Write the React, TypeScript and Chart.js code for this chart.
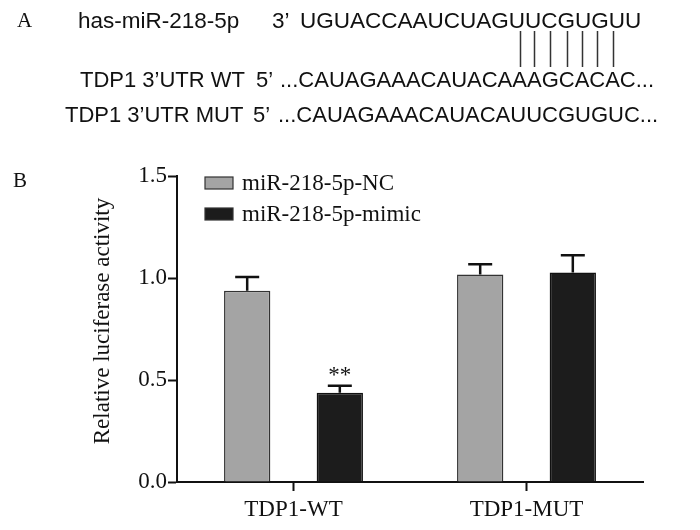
import { useEffect, useRef } from "react";
import { Chart, registerables } from "chart.js";

Chart.register(...registerables);

// ---- Panel B data ----
const categories = ["TDP1-WT", "TDP1-MUT"];
const seriesNames = ["miR-218-5p-NC", "miR-218-5p-mimic"];
const ncValues = [0.938, 1.017];
const ncErrors = [0.067, 0.051];
const mimicValues = [0.438, 1.027];
const mimicErrors = [0.034, 0.085];
const mimicMarks = ["**", ""];
const ncMarks = ["", ""];
const yTicks = [0, 0.5, 1.0, 1.5];
const yTitle = "Relative luciferase activity";

// ---- Panel A text ----
const mirName = "has-miR-218-5p";
const mirEnd = "3’";
const mirSeq = "UGUACCAAUCUAGUUCGUGUU";
const wtLabel = "TDP1 3’UTR WT";
const mutLabel = "TDP1 3’UTR MUT";
const utrEnd = "5’";
const wtSeq = "...CAUAGAAACAUACAAAGCACAC...";
const mutSeq = "...CAUAGAAACAUACAUUCGUGUC...";
// indices (in wtSeq, including the leading "...") of the paired bases
const pairedIdx = [17, 18, 19, 20, 21, 22, 23];

const NC_FILL = "#a4a4a4";
const MIMIC_FILL = "#1c1c1c";
const SERIF = "'Liberation Serif', 'Times New Roman', serif";
const SANS = "'Liberation Sans', Arial, sans-serif";

const customPlugin = {
  id: "customDraw",
  afterDatasetsDraw(chart: any) {
    const ctx = chart.ctx;
    const ys = chart.scales.y;
    const vals = [ncValues, mimicValues];
    const errs = [ncErrors, mimicErrors];
    const marks = [ncMarks, mimicMarks];
    chart.data.datasets.forEach((_ds: any, di: number) => {
      const meta = chart.getDatasetMeta(di);
      meta.data.forEach((bar: any, i: number) => {
        const x = bar.x;
        const top = ys.getPixelForValue(vals[di][i]);
        const et = ys.getPixelForValue(vals[di][i] + errs[di][i]);
        ctx.save();
        ctx.strokeStyle = "#111";
        ctx.lineWidth = 2.5;
        ctx.beginPath();
        ctx.moveTo(x, top);
        ctx.lineTo(x, et);
        ctx.moveTo(x - 12, et);
        ctx.lineTo(x + 12, et);
        ctx.stroke();
        if (marks[di][i]) {
          ctx.fillStyle = "#111";
          ctx.font = `23px ${SERIF}`;
          ctx.textAlign = "center";
          ctx.textBaseline = "alphabetic";
          ctx.fillText(marks[di][i], x, et - 4);
        }
        ctx.restore();
      });
    });
  },
  afterDraw(chart: any) {
    const ctx = chart.ctx;
    ctx.save();
    ctx.fillStyle = "#111";
    // Panel labels
    ctx.font = `21px ${SERIF}`;
    ctx.textAlign = "left";
    ctx.textBaseline = "alphabetic";
    ctx.fillText("A", 17, 27);
    ctx.fillText("B", 13, 187);

    // Panel A sequences
    ctx.font = `22.5px ${SANS}`;
    ctx.fillText(mirName, 78, 28);
    ctx.fillText(mirEnd, 272, 28);
    ctx.fillText(mirSeq, 300, 28);
    ctx.font = `22px ${SANS}`;
    const wtX = 280;
    ctx.fillText(wtLabel, 80, 87);
    ctx.fillText(utrEnd, 256, 87);
    ctx.fillText(wtSeq, wtX, 87);
    ctx.fillText(mutLabel, 65, 122);
    ctx.fillText(utrEnd, 253, 122);
    ctx.fillText(mutSeq, 278, 122);

    ctx.strokeStyle = "#333";
    ctx.lineWidth = 1.5;
    ctx.beginPath();
    pairedIdx.forEach((k) => {
      const pre = ctx.measureText(wtSeq.slice(0, k)).width;
      const w = ctx.measureText(wtSeq[k]).width;
      const cx = Math.round(wtX + pre + w / 2) + 0.5;
      ctx.moveTo(cx, 31);
      ctx.lineTo(cx, 67);
    });
    ctx.stroke();

    // Legend
    const fills = [NC_FILL, MIMIC_FILL];
    const rowsY = [183, 214];
    seriesNames.forEach((name, i) => {
      ctx.fillStyle = fills[i];
      ctx.fillRect(205, rowsY[i] - 6, 28, 12);
      ctx.strokeStyle = "#333";
      ctx.lineWidth = 1.2;
      ctx.strokeRect(205, rowsY[i] - 6, 28, 12);
      ctx.fillStyle = "#111";
      ctx.font = `23px ${SERIF}`;
      ctx.textBaseline = "middle";
      ctx.textAlign = "left";
      ctx.fillText(name, 242, rowsY[i] + 1);
    });

    // Y axis title
    ctx.translate(103, 321);
    ctx.rotate(-Math.PI / 2);
    ctx.font = `23px ${SERIF}`;
    ctx.textAlign = "center";
    ctx.textBaseline = "middle";
    ctx.fillStyle = "#111";
    ctx.fillText(yTitle, 0, 0);
    ctx.restore();
  },
};

export default function App() {
  const ref = useRef<HTMLCanvasElement | null>(null);
  useEffect(() => {
    document.body.style.margin = "0";
    if (!ref.current) return;
    const chart = new Chart(ref.current, {
      type: "bar",
      data: {
        labels: categories,
        datasets: [
          {
            label: seriesNames[0],
            data: ncValues,
            backgroundColor: NC_FILL,
            borderColor: "#333",
            borderWidth: 1.5,
            borderSkipped: "start",
          },
          {
            label: seriesNames[1],
            data: mimicValues,
            backgroundColor: MIMIC_FILL,
            borderColor: "#111",
            borderWidth: 1.5,
            borderSkipped: "start",
          },
        ],
      },
      options: {
        responsive: false,
        animation: false,
        events: [],
        layout: { padding: { top: 176, right: 57, left: 0, bottom: 0 } },
        datasets: { bar: { categoryPercentage: 0.795, barPercentage: 0.5 } },
        plugins: { legend: { display: false }, tooltip: { enabled: false } },
        scales: {
          x: {
            offset: true,
            border: { display: true, color: "#111", width: 2 },
            grid: {
              display: true,
              offset: false,
              drawOnChartArea: false,
              drawTicks: true,
              tickLength: 9,
              tickWidth: 2,
              tickColor: "#111",
            },
            ticks: {
              padding: 5,
              color: "#111",
              font: { family: SERIF, size: 23 },
            },
            afterFit: (s: any) => {
              s.height = 48;
            },
          },
          y: {
            min: 0,
            max: 1.5,
            border: { display: true, color: "#111", width: 2 },
            grid: {
              display: true,
              drawOnChartArea: false,
              drawTicks: true,
              tickLength: 9,
              tickWidth: 2,
              tickColor: "#111",
            },
            afterBuildTicks: (s: any) => {
              s.ticks = yTicks.map((v) => ({ value: v }));
            },
            ticks: {
              padding: 1,
              color: "#111",
              font: { family: SERIF, size: 23 },
              callback: (v: any) => Number(v).toFixed(1),
            },
            afterFit: (s: any) => {
              s.width = 177;
            },
          },
        },
      },
      plugins: [customPlugin],
    });
    return () => chart.destroy();
  }, []);
  return (
    <div style={{ width: 700, height: 530, background: "#fff" }}>
      <canvas ref={ref} width={700} height={530} />
    </div>
  );
}
